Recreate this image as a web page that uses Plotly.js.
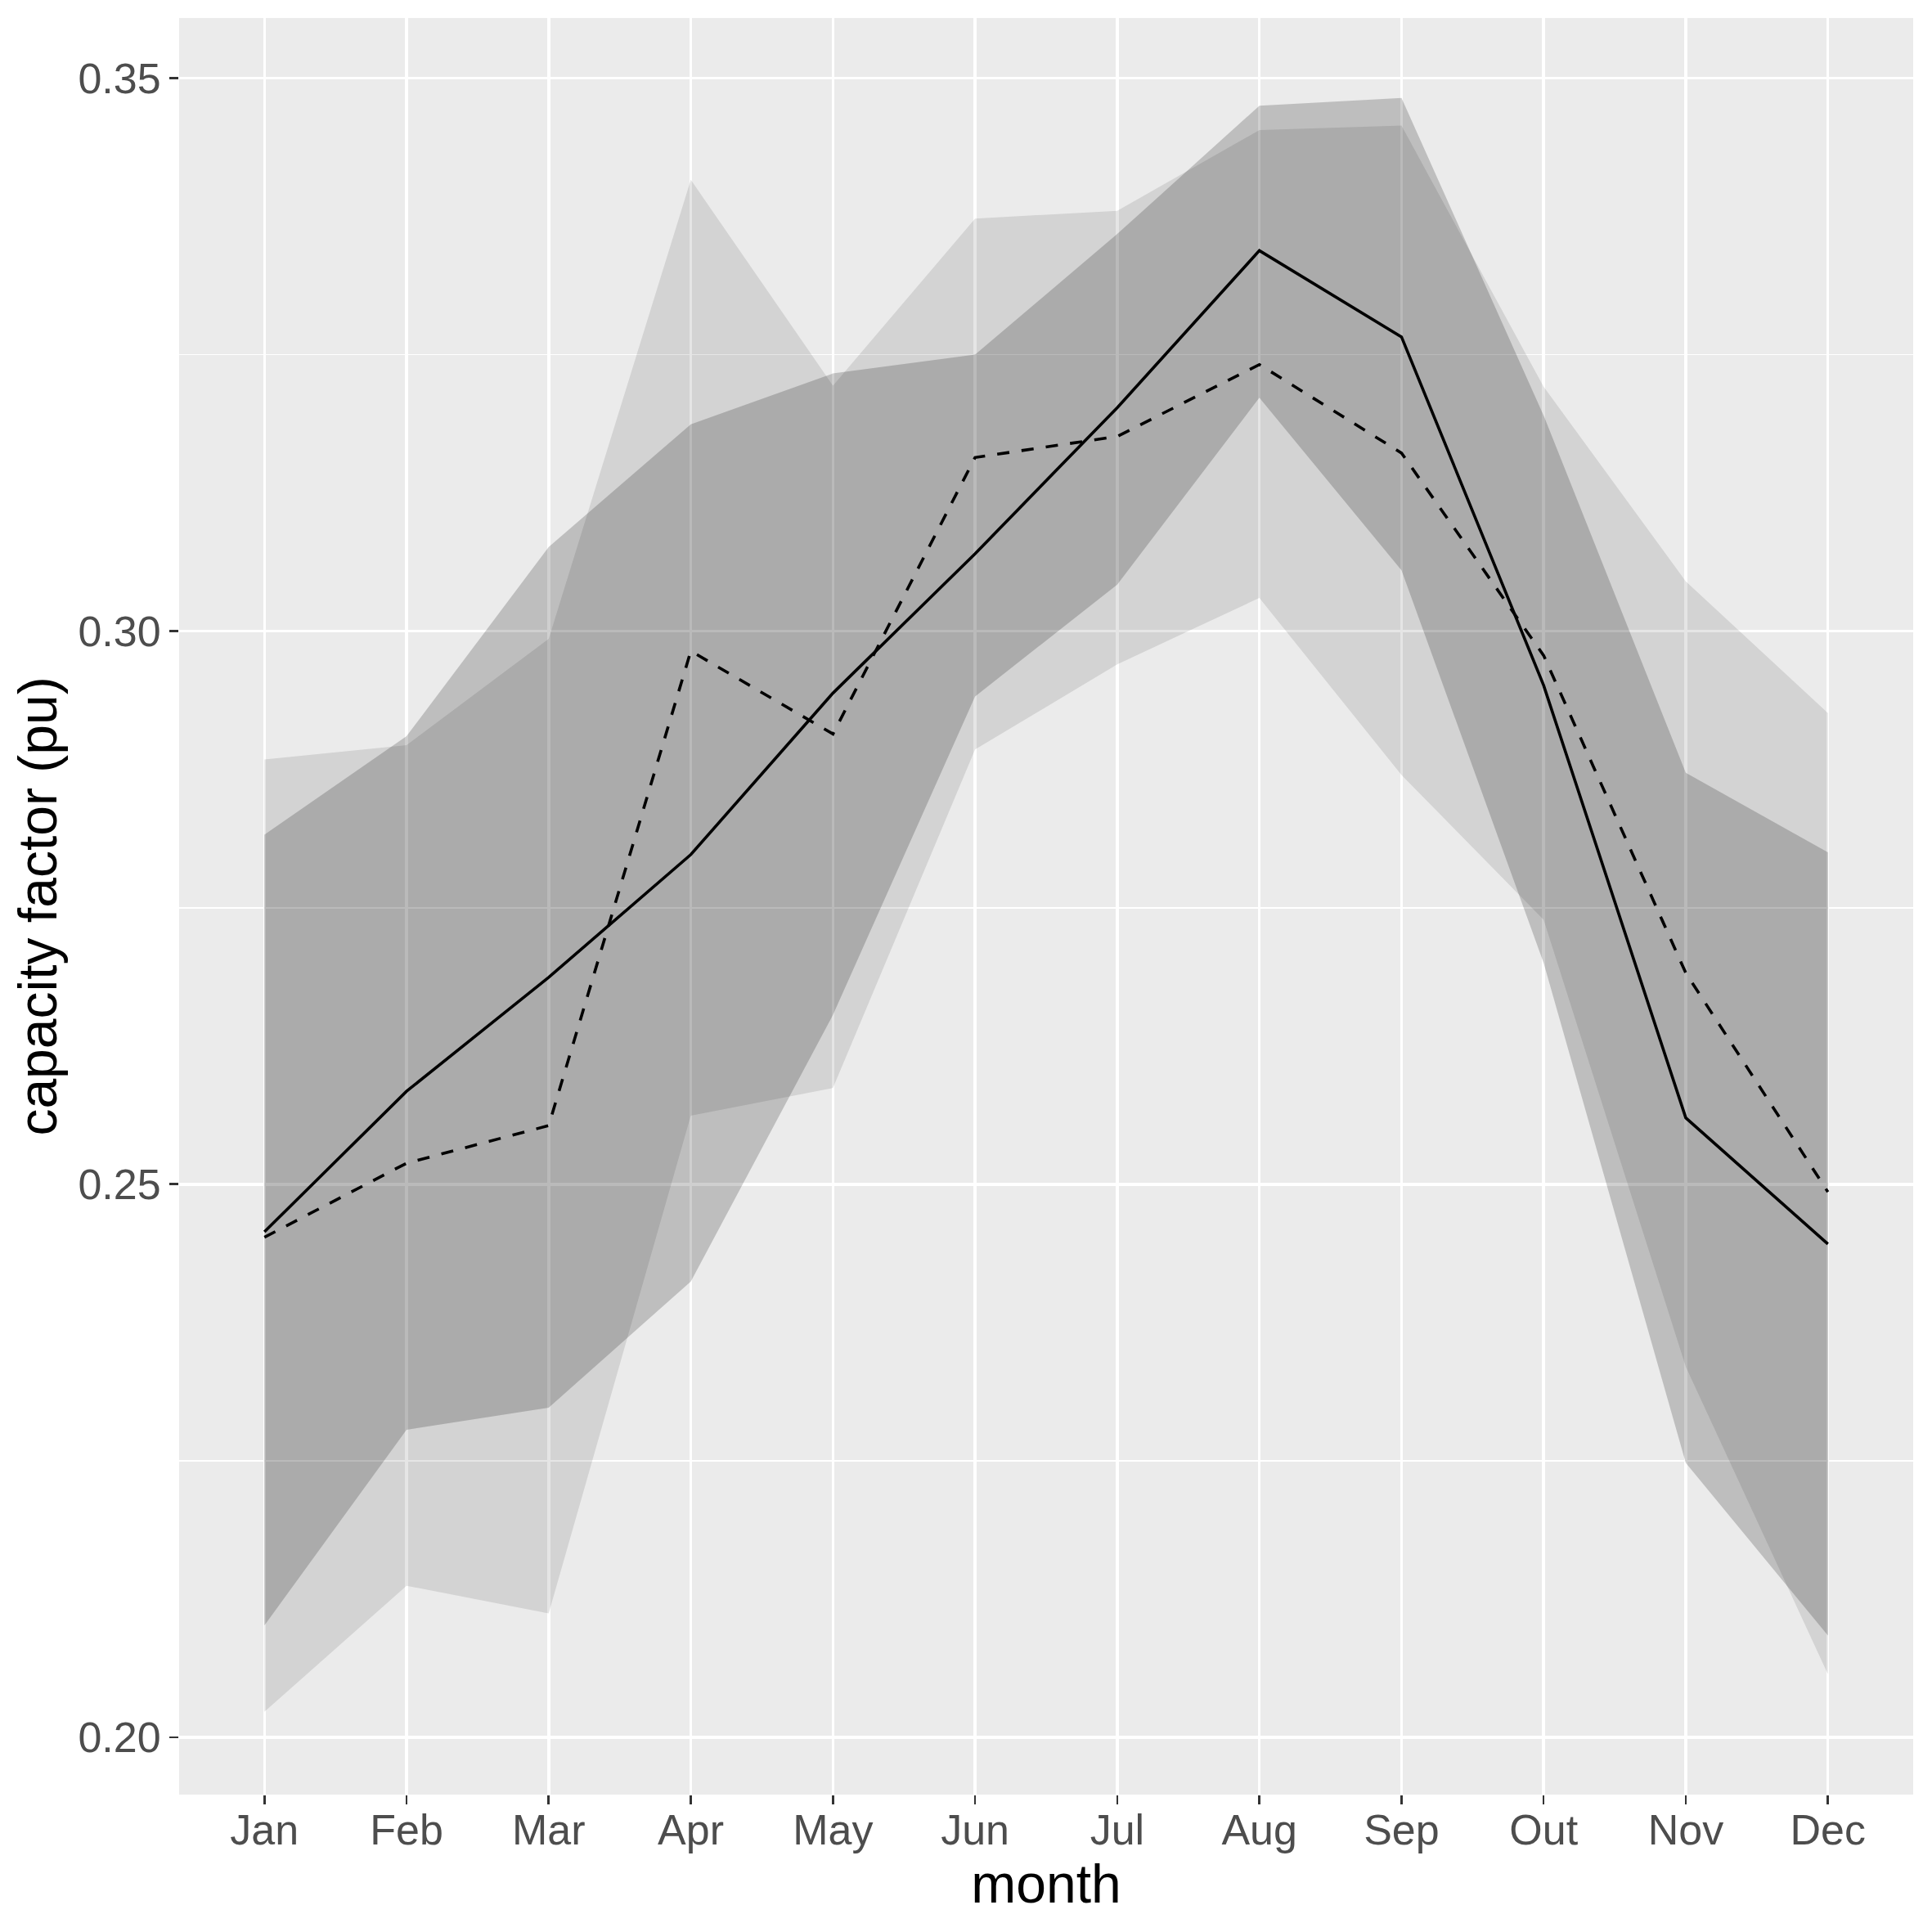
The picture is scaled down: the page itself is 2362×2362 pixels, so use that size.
<!DOCTYPE html>
<html>
<head>
<meta charset="utf-8">
<script src="https://cdn.plot.ly/plotly-3.0.1.min.js"></script>
<style>
  html, body { margin: 0; padding: 0; background: #ffffff; }
  #chart { width: 2362px; height: 2362px; }
</style>
</head>
<body>
<div id="chart"></div>
<script>
// meses (rotulos como no original)
var months = ['Jan', 'Feb', 'Mar', 'Apr', 'May', 'Jun', 'Jul', 'Aug', 'Sep', 'Out', 'Nov', 'Dec'];

// linha continua e tracejada
var solidLine  = [0.2457, 0.2584, 0.2687, 0.2798, 0.2944, 0.3070, 0.3202, 0.3344, 0.3266, 0.2951, 0.2560, 0.2446];
var dashedLine = [0.2452, 0.2519, 0.2553, 0.2982, 0.2907, 0.3157, 0.3176, 0.3241, 0.3161, 0.2978, 0.2691, 0.2493];

// faixa clara
var bandAUpper = [0.2884, 0.2897, 0.2993, 0.3408, 0.3222, 0.3373, 0.3380, 0.3453, 0.3457, 0.3221, 0.3045, 0.2926];
var bandALower = [0.2023, 0.2137, 0.2112, 0.2562, 0.2587, 0.2893, 0.2970, 0.3030, 0.2870, 0.2739, 0.2335, 0.2057];

// faixa media
var bandBUpper = [0.2816, 0.2905, 0.3076, 0.3187, 0.3233, 0.3250, 0.3359, 0.3475, 0.3482, 0.3195, 0.2872, 0.2800];
var bandBLower = [0.2101, 0.2278, 0.2298, 0.2412, 0.2653, 0.2941, 0.3042, 0.3211, 0.3055, 0.2700, 0.2248, 0.2092];

var yTicks = [0.20, 0.25, 0.30, 0.35];
var yTickText = ['0.20', '0.25', '0.30', '0.35'];
var yMinor = [0.225, 0.275, 0.325];

function ribbon(upper, lower, color) {
    return {
        x: months.concat(months.slice().reverse()),
        y: upper.concat(lower.slice().reverse()),
        type: 'scatter',
        mode: 'lines',
        fill: 'toself',
        fillcolor: color,
        line: { width: 0 },
        hoverinfo: 'skip'
    };
}

var data = [
    ribbon(bandAUpper, bandALower, 'rgba(0,0,0,0.10)'),
    ribbon(bandBUpper, bandBLower, 'rgba(0,0,0,0.19)'),
    {
        x: months,
        y: solidLine,
        type: 'scatter',
        mode: 'lines',
        line: { color: '#000000', width: 3.6 }
    },
    {
        x: months,
        y: dashedLine,
        type: 'scatter',
        mode: 'lines',
        line: { color: '#000000', width: 3.6, dash: '15px,15px' }
    }
];

var fontFam = '"Liberation Sans", Arial, sans-serif';

var layout = {
    width: 2362,
    height: 2362,
    showlegend: false,
    paper_bgcolor: '#ffffff',
    plot_bgcolor: '#EBEBEB',
    margin: { l: 219, r: 23, t: 22, b: 168 },
    xaxis: {
        type: 'category',
        range: [-0.6, 11.6],
        showgrid: true,
        gridcolor: '#ffffff',
        gridwidth: 3.5,
        zeroline: false,
        showline: false,
        ticks: 'outside',
        ticklen: 11,
        tickwidth: 2.6,
        tickcolor: '#333333',
        ticklabelstandoff: -13,
        tickfont: { family: fontFam, size: 52, color: '#4D4D4D' },
        title: { text: 'month', font: { family: fontFam, size: 66, color: '#000000' }, standoff: 0 },
        automargin: false
    },
    yaxis: {
        range: [0.19482, 0.35543],
        tickmode: 'array',
        tickvals: yTicks,
        ticktext: yTickText,
        showgrid: true,
        gridcolor: '#ffffff',
        gridwidth: 3.5,
        zeroline: false,
        showline: false,
        ticks: 'outside',
        ticklen: 11,
        tickwidth: 2.6,
        tickcolor: '#333333',
        tickfont: { family: fontFam, size: 52, color: '#4D4D4D' },
        minor: { tickmode: 'array', tickvals: yMinor, showgrid: true, gridcolor: '#ffffff', gridwidth: 1.7, ticks: '' },
        title: { text: 'capacity factor (pu)', font: { family: fontFam, size: 66, color: '#000000' }, standoff: 4 },
        automargin: false
    }
};

Plotly.newPlot('chart', data, layout, { displayModeBar: false, staticPlot: true });
</script>
</body>
</html>
